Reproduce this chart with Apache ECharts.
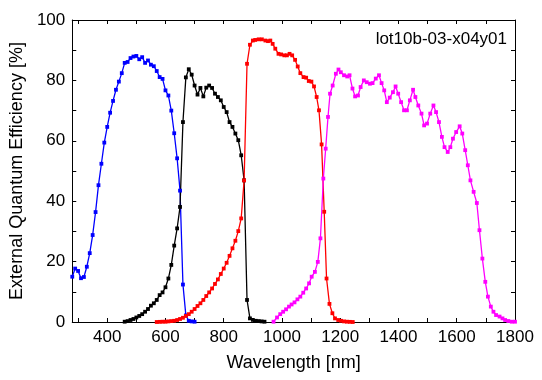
<!DOCTYPE html>
<html><head><meta charset="utf-8">
<script src="https://cdn.jsdelivr.net/npm/echarts@6/dist/echarts.min.js"></script>
<style>html,body{margin:0;padding:0;background:#fff}#c{width:542px;height:380px}</style>
</head><body><div id="c"></div>
<script>
// ---- data ----
const xTickValues = [300,400,500,600,700,800,900,1000,1100,1200,1300,1400,1500,1600,1700,1800];
const xLabelValues = [400,600,800,1000,1200,1400,1600,1800];

const blueWl = [280,290,300,310,320,330,340,350,360,370,380,390,400,410,420,430,440,450,460,470,480,490,500,510,520,530,540,550,560,570,580,590,600,610,620,630,640,650,660,670,680,690,700];
const blueEqe = [15,17.7,16.9,14.5,14.9,18.3,22.8,28.8,36.4,45.3,52.4,59.4,64.6,69.3,73.2,76.9,79.6,82.4,85.8,86.1,87.4,87.9,88.1,87,87.7,85.8,86.6,85.2,84.7,83.1,81.1,80.5,76.7,75,70,62.5,54.2,43.5,12.4,2.2,0.4,0.2,0.1];

const blackWl = [460,470,480,490,500,510,520,530,540,550,560,570,580,590,600,610,620,630,640,650,660,670,680,690,700,710,720,730,740,750,760,770,780,790,800,810,820,830,840,850,860,870,880,890,900,910,920,930,940];
const blackEqe = [0.1,0.3,0.66,1,1.5,2,2.6,3.4,4.3,5.4,6.2,7.3,8.9,9.8,11.5,14.4,18.9,25.3,31,38.1,66.2,81,83.7,81.9,78.3,75.3,77.5,74.7,77.6,78.3,77.5,75.6,74.5,73.4,71.2,69.5,66.2,64.6,62.4,60.2,55.2,46.9,7.3,1.2,0.7,0.4,0.3,0.2,0.1];

const redWl = [570,580,590,600,610,620,630,640,650,660,670,680,690,700,710,720,730,740,750,760,770,780,790,800,810,820,830,840,850,860,870,880,890,900,
  908,920,931,943,952,960,968,977,988,997,1008,1017,1026,1035,1045,1054,1063,1074,1083,1092,1101,1110,1119,1127,1136,1145,1153,1163,1173,1182,1193,1203,1213,1223,1233,1243];
const redEqe = [0,0.05,0.1,0.1,0.2,0.3,0.4,0.66,1,1.4,2,2.6,3.4,4.3,5.3,6.2,7.3,8.6,9.8,11.1,12.6,14.1,15.9,17.7,19.6,21.9,24.4,26.9,30.1,34.3,46.9,85.5,91.8,93.2,
  93.4,93.6,93.6,93.2,93,93.2,92.1,90.5,88.8,88.6,88.3,88.3,88.8,88.3,86.8,84.6,82.4,81.1,80.9,79.8,79.6,78,74.5,70.1,58.8,36.5,14.4,6,2.9,1.2,0.66,0.4,0.2,0.1,0.05,0];

const magentaWl = [971,983,994,1004,1014,1024,1033,1043,1053,1063,1073,1083,1093,1102,1113,1123,1132,1142,1150,1158,1165,1174,1185,1194,1202,1213,1224,1232,1242,1251,1261,1270,1281,1291,1302,1311,1322,1333,1342,1351,1360,1370,1381,1390,1399,1409,1419,1429,1439,1450,1458,1468,1479,1488,1498,1509,1520,1529,1539,1549,1558,1569,1578,1587,1598,1610,1619,1629,1638,1647,1658,1669,1678,1688,1698,1707,1717,1726,1735,1747,1757,1766,1777,1789,1800];
const magentaEqe = [0.1,1.5,2.6,3.4,4.2,5.1,5.8,6.5,7.5,8.4,9.7,11.1,12.8,15,16.6,19.9,27.7,47.5,57.4,67.9,75.6,78.3,82.2,83.6,82.7,81.7,81.3,81.7,77.3,74.7,75,77.8,80,79.4,78.9,79.1,80.6,81.7,79.1,76.7,72.8,74.3,76.1,78,75.6,72.8,70.1,70.1,73.4,76.9,74.5,71.7,69,65.1,65.7,69,71.7,69.5,66.2,61.3,57.9,56.3,57.9,60.7,62.9,64.8,62.4,56.9,51.9,46.9,43.1,39.4,30.4,21,13.3,8.4,5.1,3.4,2.3,1.8,1.2,0.66,0.33,0.1,0.1];

const annotation = 'lot10b-03-x04y01';
// ---------------------------------------

const FONT = '"Liberation Sans", Arial, sans-serif';
const chart = echarts.init(document.getElementById('c'), null, {renderer: 'canvas'});
function pairs(w, v) { return w.map((x, i) => [x, v[i]]); }
function ser(name, w, v, color) {
  return {
    name, type: 'line', data: pairs(w, v),
    symbol: 'rect', symbolSize: 3.8, showSymbol: true,
    lineStyle: {color, width: 1.3}, itemStyle: {color},
    emphasis: {disabled: true}, clip: true, z: 3
  };
}
const axisLine = {show: true, onZero: false, lineStyle: {color: '#000', width: 1}};
const tickStyle = {color: '#000', width: 1};

chart.setOption({
  animation: false,
  grid: {left: 71, right: 27, top: 20, bottom: 58, containLabel: false},
  xAxis: [{
    type: 'value', min: 280, max: 1800, position: 'bottom',
    axisLine, splitLine: {show: false},
    axisTick: {show: true, inside: true, length: 4, customValues: xTickValues, lineStyle: tickStyle},
    axisLabel: {customValues: xLabelValues, fontSize: 17, color: '#000', fontFamily: FONT, margin: 7,
      formatter: v => String(v)},
    name: 'Wavelength [nm]', nameLocation: 'middle', nameGap: 32,
    nameTextStyle: {fontSize: 18, color: '#000', fontFamily: FONT}
  }, {
    type: 'value', min: 280, max: 1800, position: 'top',
    axisLine, splitLine: {show: false},
    axisTick: {show: true, inside: true, length: 4, customValues: xTickValues, lineStyle: tickStyle},
    axisLabel: {show: false}
  }],
  yAxis: [{
    type: 'value', min: 0, max: 100, interval: 10, position: 'left',
    axisLine, splitLine: {show: false},
    axisTick: {show: true, inside: true, length: 4, lineStyle: tickStyle},
    axisLabel: {fontSize: 17, color: '#000', fontFamily: FONT, margin: 7,
      formatter: v => (v % 20 === 0 ? String(v) : '')},
    name: 'External Quantum Efficiency [%]', nameLocation: 'middle', nameGap: 38,
    nameTextStyle: {fontSize: 18, color: '#000', fontFamily: FONT}
  }, {
    type: 'value', min: 0, max: 100, interval: 10, position: 'right',
    axisLine, splitLine: {show: false},
    axisTick: {show: true, inside: true, length: 4, lineStyle: tickStyle},
    axisLabel: {show: false}
  }],
  graphic: [{
    type: 'text', right: 35, top: 31,
    style: {text: annotation, font: '17px ' + FONT, fill: '#000'}
  }],
  series: [
    ser('blue', blueWl, blueEqe, '#0000ff'),
    ser('black', blackWl, blackEqe, '#000000'),
    ser('red', redWl, redEqe, '#ff0000'),
    ser('magenta', magentaWl, magentaEqe, '#ff00ff')
  ]
});
</script>
</body></html>
